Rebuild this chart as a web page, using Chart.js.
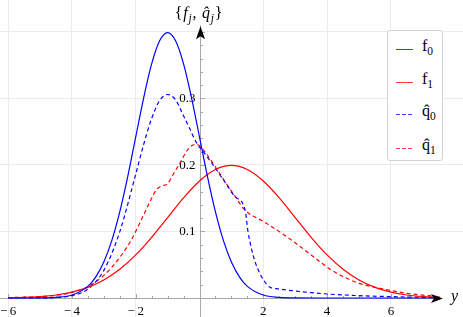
<!DOCTYPE html>
<html>
<head>
<meta charset="utf-8">
<script src="https://cdn.jsdelivr.net/npm/chart.js@4.4.0/dist/chart.umd.min.js"></script>
<style>
  html, body { margin: 0; padding: 0; background: #fff; }
  #wrap { position: relative; width: 463px; height: 317px; font-family: 'Liberation Serif', 'DejaVu Serif', serif; color: #000; }
  #wrap canvas { position: absolute; left: 0; top: 0; }
  sub { font-size: 72%; vertical-align: -0.32em; line-height: 0; }
  #title { position: absolute; left: 199px; top: 4px; transform: translateX(-50%); font-size: 16px; white-space: nowrap; letter-spacing: 0.8px; }
  #ylab { position: absolute; left: 451px; top: 287px; font-size: 16px; font-style: italic; }
  #legend { position: absolute; left: 387px; top: 30px; width: 56px; height: 131px; box-sizing: border-box;
            border: 1px solid #d4d4d4; border-radius: 3px; background: #fff; }
  .row { position: absolute; left: 0; height: 0; }
  .sw { position: absolute; left: 8px; top: 0; width: 17px; height: 1px; }
  .solid.b { background: #3a3aff; }
  .solid.r { background: #ff3a3a; }
  .dash.b { background: repeating-linear-gradient(90deg, #3a3aff 0 4px, transparent 4px 6px); }
  .dash.r { background: repeating-linear-gradient(90deg, #ff3a3a 0 4px, transparent 4px 6px); }
  .tx { position: absolute; left: 34px; top: -12px; font-size: 16px; line-height: 18px; white-space: nowrap; }
</style>
</head>
<body>
<div id="wrap">
  <canvas id="plot"></canvas>
  <div id="title">{<i>f</i><sub><i>j</i></sub>, <i>q&#770;</i><sub><i>j</i></sub>}</div>
  <div id="ylab">y</div>
  <div id="legend">
    <div class="row" style="top:18px"><span class="sw solid b"></span><span class="tx">f<sub>0</sub></span></div>
    <div class="row" style="top:51px"><span class="sw solid r"></span><span class="tx">f<sub>1</sub></span></div>
    <div class="row" style="top:83px"><span class="sw dash b"></span><span class="tx">q&#770;<sub>0</sub></span></div>
    <div class="row" style="top:117px"><span class="sw dash r"></span><span class="tx">q&#770;<sub>1</sub></span></div>
  </div>
</div>
<script>
// axis ranges / ticks
const X_MIN = -6.254, X_MAX = 8.26;
const Y_MIN = -0.0286, Y_MAX = 0.4481;
const xTicks = [-6, -4, -2, 2, 4, 6];
const yTicks = [0.1, 0.2, 0.3, 0.4];
const yLabels = ['0.1', '0.2', '0.3', ''];

// f0 (blue solid)
const xF0 = [-6, -5.5, -5, -4.5, -4, -3.5, -3.25, -3, -2.75, -2.5, -2.25, -2, -1.75, -1.5, -1.25, -1,
             -0.75, -0.5, -0.25, 0, 0.25, 0.5, 0.75, 1, 1.25, 1.5, 2, 2.5, 3, 4, 5, 6, 7.5];
const f0 = [0, 0, 0.0001, 0.0009, 0.0044, 0.0175, 0.0317, 0.054, 0.0863, 0.1295, 0.1826, 0.242, 0.3011, 0.352, 0.3867, 0.399,
            0.3867, 0.352, 0.3011, 0.242, 0.1826, 0.1295, 0.0863, 0.054, 0.0317, 0.0175, 0.0044, 0.0009, 0.0001, 0, 0, 0, 0];

// f1 (red solid)
const xF1 = [-6, -5.5, -5, -4.5, -4, -3.5, -3, -2.5, -2, -1.5, -1, -0.5, 0, 0.5, 1, 1.5, 2, 2.5, 3, 3.5,
             4, 4.5, 5, 5.5, 6, 6.5, 7, 7.5];
const f1 = [0.0004, 0.001, 0.0022, 0.0045, 0.0088, 0.0159, 0.027, 0.0431, 0.0648, 0.0913, 0.121, 0.1506, 0.176, 0.1933, 0.1995, 0.1933, 0.176, 0.1506, 0.121, 0.0913,
            0.0648, 0.0431, 0.027, 0.0159, 0.0088, 0.0045, 0.0022, 0.001];

// q0 hat (blue dashed)
const xQ0 = [-6, -5, -4.5, -4, -3.5, -3, -2.5, -2, -1.75, -1.5, -1.25, -1, -0.75, -0.5, -0.3, -0.1, 0.2, 0.5, 0.8, 1.1, 1.43,
             1.52, 1.64, 1.76, 1.9, 2.05, 2.18, 2.5, 3, 3.5, 4, 5, 6, 7.5];
const q0 = [0, 0.0001, 0.0007, 0.0034, 0.0134, 0.0415, 0.0995, 0.186, 0.231, 0.27, 0.297, 0.306, 0.298, 0.274, 0.254, 0.234, 0.215, 0.195, 0.174, 0.153, 0.132,
            0.1, 0.072, 0.052, 0.036, 0.024, 0.017, 0.0135, 0.0105, 0.008, 0.006, 0.0035, 0.002, 0.0005];

// q1 hat (red dashed)
const xQ1 = [-6, -5, -4.5, -4, -3.5, -3, -2.5, -2.13, -1.75, -1.5, -1.35, -1.2, -1, -0.8, -0.6, -0.4, -0.25, -0.1, 0, 0.2, 0.5, 0.8, 1.1, 1.43,
             2, 2.56, 3, 3.6, 4.1, 4.6, 5, 5.66, 6.5, 7.5];
const q1 = [0.0005, 0.002, 0.004, 0.0085, 0.017, 0.034, 0.061, 0.088, 0.125, 0.15, 0.163, 0.168, 0.172, 0.188, 0.204, 0.221, 0.229, 0.231, 0.229, 0.218, 0.197, 0.175, 0.154, 0.132,
            0.115, 0.098, 0.083, 0.061, 0.043, 0.03, 0.022, 0.0146, 0.007, 0.002];

const pts = (xs, ys) => xs.map((x, i) => ({ x, y: ys[i] }));
const serif = 'Liberation Serif';
const AXIS = '#a8a8a8';
Chart.defaults.font.family = serif;

function line(xs, ys, color, dashed) {
  return {
    data: pts(xs, ys), showLine: true, borderColor: color, borderWidth: 1.2,
    borderDash: dashed ? [4, 3] : [], pointRadius: 0, fill: false,
    cubicInterpolationMode: 'monotone',
  };
}

// keep the plot area the full canvas
const noPad = s => { s.paddingTop = 0; s.paddingBottom = 0; s.paddingLeft = 0; s.paddingRight = 0; };

// axes lines, minor ticks, y labels, arrowheads
const axesPlugin = {
  id: 'axes',
  beforeDatasetsDraw(chart) {
    const { ctx, scales: { x, y } } = chart;
    const x0 = Math.round(x.getPixelForValue(0)) + 0.5;
    const y0 = Math.round(y.getPixelForValue(0)) + 0.5;
    ctx.save();
    ctx.strokeStyle = AXIS;
    ctx.lineWidth = 1;
    ctx.beginPath();
    ctx.moveTo(0, y0); ctx.lineTo(x.getPixelForValue(7.6), y0);
    ctx.moveTo(x0, chart.height); ctx.lineTo(x0, y.getPixelForValue(0.41));
    // x ticks every 0.5, pointing up
    for (let v = -6; v <= 7.5; v += 0.5) {
      if (v === 0) continue;
      const px = Math.round(x.getPixelForValue(v)) + 0.5;
      const len = Number.isInteger(v / 2) ? 4.5 : 2.5;
      ctx.moveTo(px, y0); ctx.lineTo(px, y0 - len);
    }
    // y ticks every 0.02, pointing right
    for (let k = 1; k <= 20; k++) {
      const py = Math.round(y.getPixelForValue(k * 0.02)) + 0.5;
      const len = k % 5 === 0 ? 4.5 : 2.5;
      ctx.moveTo(x0, py); ctx.lineTo(x0 + len, py);
    }
    ctx.stroke();
    // y tick labels, left of the axis
    ctx.fillStyle = '#000';
    ctx.font = `13px ${serif}`;
    ctx.textAlign = 'right';
    ctx.textBaseline = 'middle';
    y.ticks.forEach(t => {
      const lab = yLabels[yTicks.indexOf(t.value)];
      if (lab) ctx.fillText(lab, x0 - 5, y.getPixelForValue(t.value) + 0.5);
    });
    ctx.restore();
  },
  afterDatasetsDraw(chart) {
    const { ctx, scales: { x, y } } = chart;
    const x0 = Math.round(x.getPixelForValue(0)) + 0.5;
    const y0 = Math.round(y.getPixelForValue(0)) + 0.5;
    const xt = x.getPixelForValue(7.6) + 1;
    const yt = y.getPixelForValue(0.41) + 1;
    ctx.save();
    ctx.fillStyle = '#000';
    ctx.beginPath();
    ctx.moveTo(xt, y0); ctx.lineTo(xt - 12, y0 - 4.5); ctx.lineTo(xt - 9, y0); ctx.lineTo(xt - 12, y0 + 4.5); ctx.closePath();
    ctx.moveTo(x0, yt); ctx.lineTo(x0 - 4.5, yt + 13); ctx.lineTo(x0, yt + 10); ctx.lineTo(x0 + 4.5, yt + 13); ctx.closePath();
    ctx.fill();
    ctx.restore();
  },
};

new Chart(document.getElementById('plot'), {
  type: 'scatter',
  data: {
    datasets: [
      line(xF0, f0, '#0000ff', false),
      line(xF1, f1, '#ff0000', false),
      line(xQ0, q0, '#0000ff', true),
      line(xQ1, q1, '#ff0000', true),
    ],
  },
  options: {
    responsive: true,
    maintainAspectRatio: false,
    animation: false,
    layout: { padding: 0, autoPadding: false },
    plugins: { legend: { display: false }, tooltip: { enabled: false } },
    scales: {
      x: {
        type: 'linear', min: X_MIN, max: X_MAX, position: { y: 0 },
        afterBuildTicks: s => { s.ticks = xTicks.map(v => ({ value: v })); },
        afterFit: noPad,
        grid: { color: '#ebebeb', drawTicks: false },
        border: { display: false },
        ticks: {
          autoSkip: false, maxRotation: 0, padding: 6, color: '#000',
          font: { family: serif, size: 13 },
          callback: v => (v < 0 ? '\u2212\u2009' + Math.abs(v) : String(v)),
        },
      },
      y: {
        type: 'linear', min: Y_MIN, max: Y_MAX, position: { x: 0 },
        afterBuildTicks: s => { s.ticks = yTicks.map(v => ({ value: v })); },
        afterFit: noPad,
        grid: { color: '#ebebeb', drawTicks: false },
        border: { display: false },
        ticks: { display: false },
      },
    },
  },
  plugins: [axesPlugin],
});
</script>
</body>
</html>
